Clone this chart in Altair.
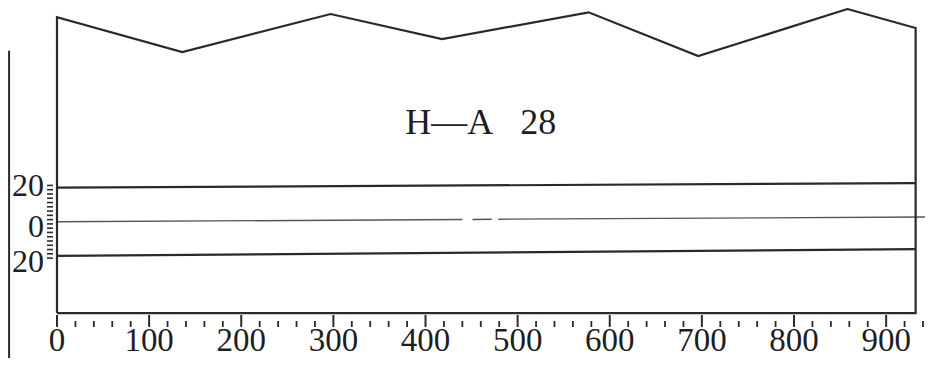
import altair as alt
import pandas as pd

# ---- data ----
outline_x = [0, 0, 136, 297, 418, 577, 696, 858, 932, 932, 0]
outline_y = [-53.4, 119.7, 99.2, 121.5, 106.8, 122.5, 96.9, 124.4, 113.3, -53.4, -53.4]

# level lines (start x, start y, end x, end y)
line_x1 = [0, 0, 451, 479, 0]
line_y1 = [20, 0, 1.35, 1.5, -20]
line_x2 = [932, 440, 472, 946, 932]
line_y2 = [22.6, 1.3, 1.45, 2.8, -16]
line_kind = ["main", "zero", "zero", "zero", "main"]

x_major = [0, 100, 200, 300, 400, 500, 600, 700, 800, 900]
x_minor = [20, 40, 60, 80, 120, 140, 160, 180, 220, 240, 260, 280,
           320, 340, 360, 380, 420, 440, 460, 480, 520, 540, 560, 580,
           620, 640, 660, 680, 720, 740, 760, 780, 820, 840, 860, 880,
           920, 940]
y_minor = [-21.25, -18.75, -16.25, -13.75, -11.25, -8.75, -6.25, -3.75, -1.25,
           1.25, 3.75, 6.25, 8.75, 11.25, 13.75, 16.25, 18.75, 21.25]
y_label_pos = [20.9, -2.8, -23.6]
y_label_text = ["20", "0", "20"]
title_text = ["H\u2014A\u00a0\u00a0\u00a028"]
title_x = [460]
title_y = [57.7]

FONT = "Liberation Serif"
INK = "#2a2a2a"

xs = alt.Scale(domain=[0, 940], nice=False, zero=False)
ys = alt.Scale(domain=[-53.4, 125], nice=False, zero=False)
X = lambda f: alt.X(f, type="quantitative", scale=xs, axis=None)
Y = lambda f: alt.Y(f, type="quantitative", scale=ys, axis=None)

outline_df = pd.DataFrame({"x": outline_x, "y": outline_y, "o": list(range(len(outline_x)))})
lines_df = pd.DataFrame({"x1": line_x1, "y1": line_y1, "x2": line_x2, "y2": line_y2, "k": line_kind})
major_df = pd.DataFrame({"x": x_major, "t": [str(v) for v in x_major]})
minor_df = pd.DataFrame({"x": x_minor})
yminor_df = pd.DataFrame({"y": y_minor})
ylab_df = pd.DataFrame({"y": y_label_pos, "t": y_label_text})
title_df = pd.DataFrame({"x": title_x, "y": title_y, "t": title_text})
edge_df = pd.DataFrame({"x": [-52], "y": [100], "y2": [-95]})

outline = alt.Chart(outline_df).mark_line(color=INK, strokeWidth=2.2, strokeJoin="miter").encode(
    x=X("x"), y=Y("y"), order="o:Q")

main_lines = alt.Chart(lines_df).transform_filter(alt.datum.k == "main").mark_rule(
    color=INK, strokeWidth=2.2).encode(x=X("x1"), y=Y("y1"), x2="x2:Q", y2="y2:Q")
zero_lines = alt.Chart(lines_df).transform_filter(alt.datum.k == "zero").mark_rule(
    color="#555555", strokeWidth=1.4).encode(x=X("x1"), y=Y("y1"), x2="x2:Q", y2="y2:Q")

major_ticks = alt.Chart(major_df).mark_rule(color=INK, strokeWidth=2).encode(
    x=X("x"), y=alt.value(307), y2=alt.value(319))
minor_ticks = alt.Chart(minor_df).mark_rule(color=INK, strokeWidth=1.8).encode(
    x=X("x"), y=alt.value(313), y2=alt.value(319))
x_labels = alt.Chart(major_df).mark_text(
    font=FONT, fontSize=33, color="#1e1e1e", baseline="alphabetic", align="center").encode(
    x=X("x"), y=alt.value(343), text="t:N")

y_ticks = alt.Chart(yminor_df).mark_rule(color=INK, strokeWidth=1.6).encode(
    y=Y("y"), x=alt.value(-10), x2=alt.value(-4))
y_labels = alt.Chart(ylab_df).mark_text(
    font=FONT, fontSize=32, color="#1e1e1e", baseline="middle", align="right").encode(
    y=Y("y"), x=alt.value(-13), text="t:N")

title = alt.Chart(title_df).mark_text(
    font=FONT, fontSize=36, color="#1e1e1e", baseline="middle", align="center").encode(
    x=X("x"), y=Y("y"), text="t:N")

edge = alt.Chart(edge_df).mark_rule(color=INK, strokeWidth=2).encode(
    x=X("x"), y=Y("y"), y2="y2:Q")

chart = alt.layer(
    zero_lines, main_lines, outline, major_ticks, minor_ticks, x_labels,
    y_ticks, y_labels, title, edge
).properties(
    width=866.2, height=305.1,
    autosize=alt.AutoSizeParams(type="none"),
    padding={"left": 49, "top": 0, "right": 2, "bottom": 45},
    background="white",
).configure_view(stroke=None)

chart.save("out.html", embed_options={"renderer": "svg", "actions": False})
